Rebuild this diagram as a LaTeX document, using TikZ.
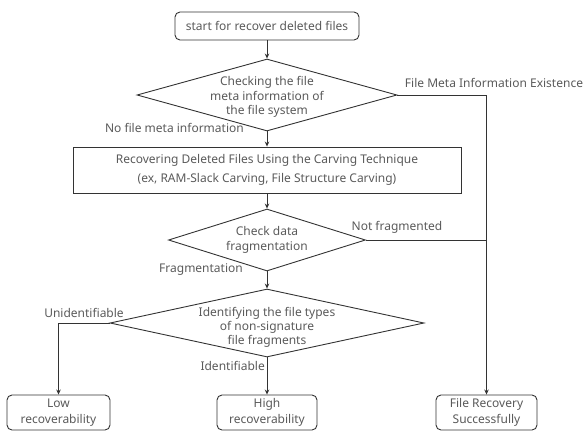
\documentclass[tikz,border=0pt]{standalone}
\usepackage{fontspec}
\setmainfont{Noto Sans}
\usetikzlibrary{shapes.geometric,arrows.meta}
\definecolor{linec}{HTML}{333333}
\definecolor{textc}{HTML}{5A5A5A}
\tikzset{
  every node/.style={text=textc, font=\fontsize{12}{14.5}\selectfont},
  box/.style={draw=linec, line width=0.9pt, rounded corners=5pt, align=center, inner sep=0pt},
  rectbox/.style={draw=linec, line width=0.9pt, align=center, inner sep=0pt, font=\fontsize{12}{19}\selectfont},
  dia/.style={draw=linec, line width=0.9pt, shape=diamond, inner sep=0pt},
  dtext/.style={align=center, inner sep=0pt},
  lbl/.style={inner sep=0pt},
  conn/.style={draw=linec, line width=0.9pt},
  arr/.style={conn, -{Stealth[length=5pt,width=4.5pt]}},
}
\begin{document}
\begin{tikzpicture}[x=1pt,y=-1pt]
\useasboundingbox (0,0) rectangle (584,432);
% nodes
\node[box, minimum width=184pt, minimum height=28pt] (start) at (267,26) {start for recover deleted files};
\node[dia, minimum width=260pt, minimum height=72pt] (d1) at (267,95) {};
\node[dtext] (d1t) at (267,97) {Checking the file\\meta information of\\the file system};
\node[rectbox, minimum width=388pt, minimum height=46pt] (carve) at (267,170) {Recovering Deleted Files Using the Carving Technique\\(ex, RAM-Slack Carving, File Structure Carving)};
\node[dia, minimum width=197pt, minimum height=62pt] (d2) at (267,240) {};
\node[dtext] (d2t) at (267,240) {Check data\\fragmentation};
\node[dia, minimum width=314pt, minimum height=68pt] (d3) at (267,323) {};
\node[dtext, font=\fontsize{12}{14}\selectfont] (d3t) at (267,327) {Identifying the file types\\of non-signature\\file fragments};
\node[box, minimum width=103pt, minimum height=35pt, font=\fontsize{12}{16}\selectfont] (low) at (58.5,412.5) {Low\\recoverability};
\node[box, minimum width=100pt, minimum height=35pt, font=\fontsize{12}{16}\selectfont] (high) at (267,412.5) {High\\recoverability};
\node[box, minimum width=101pt, minimum height=35pt, font=\fontsize{12}{16}\selectfont] (file) at (486.5,412.5) {File Recovery\\Successfully};
% corner coordinates
\coordinate (c1) at (file.north |- d1.east);
\coordinate (c2) at (file.north |- d2.east);
\coordinate (c3) at (low.north |- d3.west);
% connectors
\draw[arr] (start) -- (d1.north);
\draw[arr] (d1.south) -- (carve);
\draw[arr] (carve) -- (d2.north);
\draw[arr] (d2.south) -- (d3.north);
\draw[arr] (d3.south) -- (high);
\draw[arr] (d3.west) -- (c3) -- (low);
\draw[arr] (d1.east) -- (c1) -- (file);
\draw[conn] (d2.east) -- (c2);
% labels
\node[lbl] (l1) at (494,83) {File Meta Information Existence};
\node[lbl, anchor=east] (l2) at (244,128) {No file meta information};
\node[lbl] (l3) at (397,227) {Not fragmented};
\node[lbl] (l4) at (201,270) {Fragmentation};
\node[lbl] (l5) at (84,313) {Unidentifiable};
\node[lbl, anchor=east] (l6) at (265,366) {Identifiable};
\end{tikzpicture}
\end{document}
